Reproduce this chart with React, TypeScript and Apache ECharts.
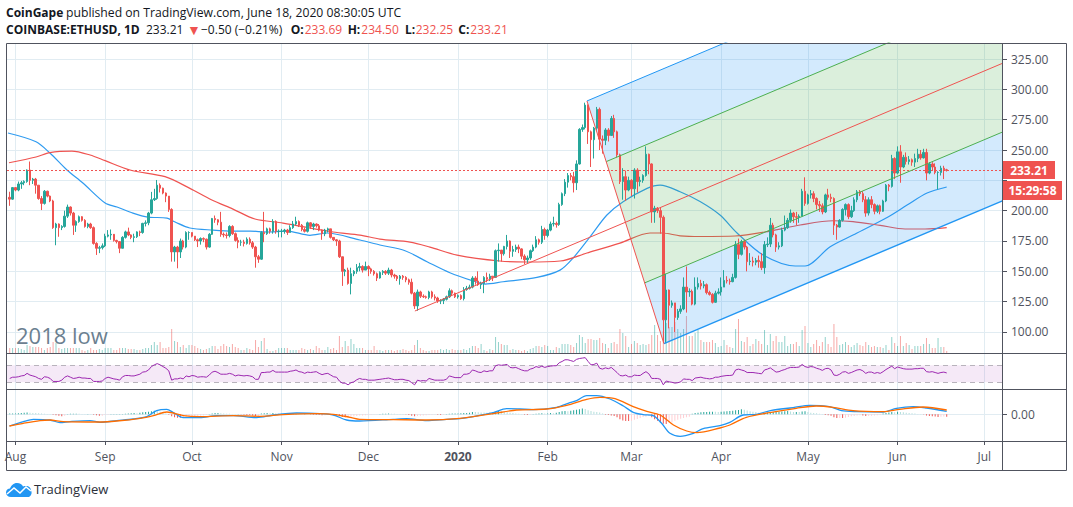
import React, { useEffect, useRef } from "react";
import * as echarts from "echarts";

// ---- time scale: day 0 is 1 Aug 2019 ----
const firstDay = -2;
const monthDays = [0, 31, 61, 92, 122, 153, 184, 213, 244, 274, 305, 335];
const monthLabels = ["Aug", "Sep", "Oct", "Nov", "Dec", "2020", "Feb", "Mar", "Apr", "May", "Jun", "Jul"];
const priceTicks = [100, 125, 150, 175, 200, 225, 250, 275, 300, 325];
const priceLabelsHidden = [225];
const lastPrice = 233.21;

// ---- daily candles ----
const firstOpen = 211;
const closes = [
  209.5,219,217,222,223,224,233.5,225,226,221,
  210,206,216,212,208,186,189,186,187,195.5,
  203,198,188,191,195,192,187,189,186,173,
  169,169.5,171,179,180,180.5,175.5,174.5,169,178,
  182.5,180,178,178.5,182.5,182,189.5,190,198,209,
  210,221,218.5,214.5,212,201,166,170,166,175,
  170,182,182,179,176,175,177,176.5,170,180.5,
  193.5,192.5,190.5,180.5,180,179.5,187,181,175.5,174,
  174,173,176.5,173.5,170,162,160,182,181,185,
  183,191,183,183,183,184,182,186,189,191,
  188,184.5,183,190,187,189,187.5,184,181,184,
  185,178,176,175,162,150,151,140,148,150,
  153,154,151,154,152,150,148,144.5,149,150,
  148.5,151,147,146,144,146,145,143,141,132,
  121.5,133,129.5,129,128.5,133,129,128,125.5,126,
  127,129,134,132,129,130,127.5,135,136,137,
  144.5,142,139,140,145,143.5,146,145,167,167.5,
  164.5,170.5,175,166.5,168,170,168.5,162.5,159.5,161,
  167,170,176,174,184.5,179.5,184,189,189.5,188.5,
  205,214,223.5,229,228,223,238.5,267,268.5,287,
  265,258.5,268,283.5,259,258,266.5,262,276,265,
  246,224,228,217,225,218,233.5,224,225,229,
  246.5,238.5,199,202,200,194.5,110,134.6,122,124,
  112,117,119,137,133,133.5,123,137,140,138,
  139,132.5,131,124.5,132,133,137,142.5,142,141.5,
  145,172,164,174.5,170,158,158.5,157.5,159,158,
  153,172,172.5,188,180,170,171,184,186,192,
  198,195,194.5,195.5,216,206,213,214,210,205,
  204,199,213,211,210,188,186.5,192,201,205,
  195,200,209,215.5,214,209,198,209,205,199.5,
  204,199.5,208,221,220,243,231,248.5,236,244,
  240.5,242,240,243,246.5,243.5,248,231,238.5,236,
  231.5,231.5,235,233.69,233.21,
];
const highs = [
  215.6,219.5,219.5,224,224.5,225,234,240.5,227,227,
  221,212,217,216.5,212.5,209,190,189.5,188,200,
  205,203.5,199,192,196,195.5,193,190,190,187,
  174,171,173,181,184,184.5,180,176,175,179,
  183.5,186,180.5,181,183,183.5,190,192,199,215.5,
  218,225.3,222.5,219,215,212,202,171,171,177,
  176,183,183,182,179,177,178,178,177,181.5,
  194,196,193,199,182,182,188,188,182,178,
  176,176,178,178,175,171,163.5,183,199,186,
  186,193,192,184.5,185,185,185,188,191.5,195,
  192,189,186,191,190.5,190,189.5,189,184.5,185,
  186,185,178,176.5,176,162,152,153,153,151,
  156,157,155,158,155,153,151,149,150,151,
  151,153,152,148,147,147,147,146,144,144,
  133,135,134,131,130,134,134,131,129,127,
  128,130,136,135,132.5,131,131,137,138,139,
  146,146,150,141.5,146,149,148,146,168,173,
  167,171,180,175.5,171,172,172,169,164,163,
  168,172,179,177,187.5,186,185,191,195,191,
  206.5,215,226,231,231,232,241.5,268,271,289,
  287.5,266,269,285.5,285,262,268,268,278,279,
  266,247,235,233,228,226,235,235,228,230,
  253,247,239,204,203,203,196,148,135,126,
  124,119,122,145,154,136,135,145,145,143,
  142,140,134,132,134,136,145,151,146,144,
  148,175,177,176,176,171,165,162,161,163,
  165,175,178,194,190,181,174,186,196,194,
  201,199,199,197,218,227.5,214,217,216,211,
  208,206,214,218,214,211,189,193,202,206,
  206,204,211,217,217,216,212,211,212,206,
  205,205,209,222,222,246,244,253,254,246,
  248,245,243,247,251,250,251,251,240,240,
  239,232.5,237,237,234.5,
];
const lows = [
  204,209,216,216,218,221,223,221,222,214,
  209,200.5,205,211,207,185,171.5,178.5,184,186,
  194,196,180,182.5,190,191,186,185.5,185,172,
  163.5,165,168,170,178,176,174.5,173,165,169,
  177,179,176.5,174,177.5,179,181,187,188,197,
  208,209,215,213.5,207,199,158,158,152.5,161,
  168,169,176,178,175,170,172,174,168,169.5,
  180,190,188,178.5,178,177,178,180,174.5,169,
  171,170.5,172,172,168.5,153,157,159.5,174,180,
  181,181,181,178,178,181,180,182,185,188,
  186.5,183,182,182,185,184,186,183,176,179,
  182,177,175,171,161,138,146,139,131,146,
  148,150,149,151,146,148,146.5,142,144,147,
  147,147,145,144,142,139,143,141,139,131,
  119,117.5,128,128,127.5,127,127.5,126,124,123,
  123,126,128,130,128,127.5,126.5,126,134,135,
  136,139,138,135.5,132,141,142,142,144.5,158,
  158,163,168,161,162,166,165,160,156,157,
  159.5,166,169,172,172.5,176,178,183,187,186,
  187.5,204,212,219,225,215,217,238,265,267,
  255,236,243,266,250,247,254,257,262,260,
  244,222,209,208,216,212,210,215,220,223,
  228,230,190,190,198,181,92,90.7,103,120,
  100,110,115,118,116,129,122,122,135,135,
  136,131,130,123.5,124,131,130,137,140,139,
  141,144,160,163,168,150,155,154,155,153,
  151,148,170,170,178,166,168,170,183,185,
  190,190,188,190,196,204,205,210,207,201,
  199,197,198,209,207,180,176,186,191,196,
  193,194,199,207,212,207,195,196,202,197,
  198,197,199,207,216,219,226,230,223,235,
  238,238,237,236,240,242,243,225,230,233,
  230,217.6,229,226,232.25,
];
const volumes = [
  5,5,5,5,4,3,8,7,6,6,
  6,5,3,5,6,11,10,5,4,5,
  5,5,5,5,5,3,2,3,5,3,
  3,4,3,5,5,5,3,3,5,5,
  5,4,4,4,3,3,4,5,5,8,
  11,8,11,5,5,6,24,12,11,6,
  8,5,8,8,7,5,4,3,4,5,
  7,7,4,7,9,7,6,9,6,5,
  3,3,5,4,3,13,6,12,15,4,
  2,2,3,5,5,5,5,3,3,3,
  3,5,4,3,4,3,7,5,3,3,
  6,4,5,3,17,6,12,7,14,9,
  5,5,5,3,3,3,7,3,3,2,
  3,3,3,2,3,3,4,3,2,3,
  8,13,5,3,2,2,3,3,3,4,
  3,4,3,4,3,3,3,4,3,5,
  7,7,5,9,3,2,4,3,16,11,
  9,8,8,3,4,3,3,2,3,2,
  4,5,7,7,6,8,7,3,3,6,
  5,9,9,9,8,6,10,18,16,10,
  14,14,13,13,15,10,9,5,10,11,
  9,24,20,17,6,9,12,10,8,9,
  8,9,18,28,18,12,22,30,26,26,
  31,24,20,24,37,17,17,20,23,13,
  11,11,11,13,10,6,7,13,8,6,
  5,24,34,12,11,16,7,9,14,12,
  9,23,8,19,12,17,11,11,17,7,
  9,9,11,7,23,27,10,6,9,13,
  7,11,16,9,6,29,16,8,9,11,
  8,6,8,10,8,7,11,8,6,7,
  6,6,5,8,3,16,10,7,17,7,
  10,8,4,7,7,7,9,15,9,5,
  5,15,6,6,2,
];
const rsiValues = [
  39,42,42,43,45,46,51,47,45,43,
  39,37,43,42,39,32,32,32,35,42,
  45,42,39,40,42,40,40,39,39,32,
  32,32,33,39,42,40,38,37,35,43,
  46,46,45,45,47,49,54,55,59,67,
  71,74,71,67,63,57,35,38,38,40,
  38,45,43,46,45,42,43,43,42,47,
  54,56,53,49,49,49,51,49,45,47,
  46,45,46,45,43,37,37,53,53,54,
  54,58,54,54,54,54,54,56,57,59,
  55,54,51,54,53,54,55,51,48,50,
  51,47,43,42,33,28,28,24,29,31,
  36,39,37,37,35,35,35,36,37,38,
  39,40,38,36,36,37,37,35,34,29,
  24,35,33,34,33,39,37,35,35,35,
  35,37,45,43,41,41,41,49,49,51,
  59,57,54,53,57,55,57,57,69,71,
  70,71,72,65,64,65,62,59,57,57,
  61,63,67,65,68,65,67,68,69,69,
  76,79,83,83,81,79,84,86,87,88,
  79,71,72,75,63,61,64,62,65,59,
  53,46,45,47,43,43,47,46,46,51,
  55,50,39,39,39,37,24,33,31,30,
  28,29,31,38,37,37,34,40,41,42,
  40,39,38,39,42,42,44,45,46,46,
  47,59,61,59,57,53,53,53,52,51,
  50,59,61,64,59,54,55,58,60,63,
  65,65,65,66,72,67,65,67,66,63,
  61,58,62,63,59,47,46,49,54,55,
  51,53,56,59,60,57,51,54,54,51,
  53,51,55,60,64,68,62,66,64,62,
  61,61,61,62,62,63,63,55,54,55,
  53,51,53,54,52,
];
const macdHistogram = [
  0.8,0.8,0.9,1,1.2,1.5,1.8,1.6,1.4,1.2,
  1,0.8,0.6,0.4,0.2,-0.4,-1,-1.5,-2,-1.5,
  0.3,0.5,0.6,0.6,0.5,0.4,0.3,0.3,0.2,-0.5,
  -1,-1.5,-1.4,-0.8,-0.5,0.2,0.2,0.3,0.3,0.4,
  0.6,0.8,1,1.2,1,1.5,2,2.2,2.6,3,
  3.5,3.2,2.5,1.5,0.8,-0.5,-2,-3,-3.5,-3.5,
  -3,-2.5,-2,-1.8,-1.6,-1.4,-1.2,-1,-0.8,0.3,
  0.8,1.2,1.3,1,0.8,0.6,0.5,0.3,0.2,0.2,
  -0.2,-0.4,-0.6,-0.8,-1.2,-1.8,-1.5,0.8,1,1.2,
  1.1,1.3,1,0.8,0.7,0.6,0.6,0.5,0.5,0.5,
  0.3,0.2,0.2,0.1,-0.2,-0.4,-0.6,-0.8,-1,-0.9,
  -0.7,-0.8,-1,-1.3,-2,-2.6,-3,-2.8,-2.4,-2,
  -1.6,-1.3,-1.1,-0.9,-0.7,-0.5,-0.3,-0.2,0.3,0.5,
  0.6,0.7,0.6,0.5,0.4,0.3,0.2,-0.3,-0.6,-1.5,
  -2,-1.8,-1.5,-1.2,-1,-0.6,-0.5,-0.3,-0.4,-0.6,
  -0.4,0.3,0.6,0.8,0.9,0.9,1,1.3,1.4,1.6,
  2.4,2.2,2,1.8,1.7,1.5,1.5,1.8,2.6,3.2,
  3,2.4,2,1.5,1.2,0.8,0.5,0.2,-0.4,-0.8,
  -0.5,0.2,0.5,0.8,1,0.8,0.8,1.2,1,1.6,
  2.4,3,3.3,3,3.5,4,4.6,5,5.8,5.2,
  4,3.2,2.6,2.4,1.8,0.8,-0.4,-0.8,-1.2,-1.6,
  -3,-5,-6.2,-6.6,-6.8,-6.5,-5.5,-4.8,-3.6,-2.8,
  -2.4,-1.8,-3,-5,-6.5,-8.5,-9.5,-9.8,-8.5,-8,
  -6.5,-5.5,-4.5,-3.8,-3,-2.4,0.6,1.2,1.6,2,
  2.2,2.4,2.5,2.6,2.5,2.4,2.6,2.8,3,3.2,
  3.6,4,4.4,5,4.6,3.8,3,2.6,2.2,1.6,
  1.2,1.4,1.8,2.2,2.4,2.6,2.6,2.8,3,3.2,
  2.8,2.4,2.4,2.2,2.8,3,2.4,1.6,1.2,1,
  0.6,0.3,-0.6,-1,-1.4,-3,-3.8,-3.6,-3.8,-3.5,
  -2.8,-2,-1.6,-1.2,-1,-1.2,-1.8,-1.6,-1.4,-1.2,
  -1,-0.8,0.8,1.4,1.8,2.4,2,2.6,2.3,2,
  1.6,1.3,1,0.7,0.4,0.2,-0.3,-1.2,-1.8,-2,
  -2.2,-2.6,-2.4,-2.2,-2.4,
];

// ---- lines read at their bends: [day, value] ----
const blueMA = [
  [-2.6,264],[7.1,256.8],[11.9,247.5],[17.8,233.5],[23.3,222.8],[31,206.3],[35.1,203],[40.6,198],[45.8,194.7],[52.4,193.9],
  [55.2,190.6],[60.3,185.7],[68.3,184],[75.2,183.2],[81.1,183.2],[87,182.4],[93.9,183.2],[101.8,179.7],[107.7,181.6],[119.1,175.8],
  [126,171.7],[134.7,167],[142.3,157.9],[150.2,148.8],[157.9,142.3],[162.4,139.5],[168.6,141.4],[180.3,145],[188.3,151],[192.8,160.9],
  [198.7,178.5],[204.5,196.4],[210.1,207.4],[218.4,218.4],[222.9,221.1],[229.8,215.6],[236.7,207.5],[243.6,196.4],[249.5,181.6],[258.5,163.4],
  [269.6,154.4],[273,154.4],[281.7,170.3],[289.6,179.9],[301.7,194.8],[308.3,204.6],[315.2,214.5],[322,219.5],
];
const redMA = [
  [-2.25,239.5],[7.1,244.2],[11.9,247.9],[19.5,249.1],[25.8,245.9],[31,241.2],[39.6,233.5],[51.7,228],[60.3,218.4],[67.9,208.8],
  [75.2,201.3],[82.8,193.1],[92.5,189.8],[109.8,182.4],[119.1,179.9],[126,176.6],[136.4,174.1],[143.3,170],[152.7,163.4],[167.5,158.5],
  [176.9,157.7],[188.3,158.5],[197.6,165.1],[209,173.3],[219.4,181.6],[223.6,181.6],[229.8,179.3],[236.7,178.7],[248.8,179.1],[260.9,183.2],
  [271.3,188.2],[282.7,191.7],[289.6,191],[299,187.9],[307.6,184.9],[314.5,184.9],[322,186.1],
];
const macdLine = [
  [-2.1,-11.7],[2.7,-7.3],[6.2,-5],[11.9,-5.7],[15.4,-8.3],[18.8,-7.3],[25.8,-6.3],[29.2,-8],[35,-6.3],[40.7,-4.7],[45.4,-2.3],[48.8,3.7],[52.3,5],[54.6,1.7],[58,-3.3],
  [63.8,-3.3],[69.6,-1.3],[75.3,-1.3],[83.4,-3.3],[89.2,-0.7],[97.2,1.3],[105.3,0.7],[109.9,-0.7],[114.5,-5.7],[119,-6.7],[130.6,-5],[135.3,-4.3],[142.2,-6.3],[149.1,-5],[153.7,-4.3],
  [158.3,-2.3],[165.2,1.7],[169.8,5.7],[174.4,5.3],[179,4.7],[187.1,7],[191.7,11.7],[194,13.7],[197.5,18.7],[200.9,18.7],[205.6,15.3],[210.2,8.3],[213.6,2],[217,-0.3],[220.5,-1.3],
  [223.4,-9],[226.3,-19],[229.8,-22],[234.4,-19],[237.8,-14.3],[243.6,-11.3],[247,-8],[251.6,-0.7],[256.2,0],[261.4,4],[268.9,6.7],[274.6,9],[281.5,7.7],[285.6,3.7],[290.8,2.7],
  [300,2.3],[304.6,6],[310.4,7.7],[315,6.3],[322,3],
];
const signalLine = [
  [-2.1,-11.7],[2.7,-9],[8.5,-6.3],[11.9,-5.7],[16.5,-7.3],[29.2,-7.7],[35,-6.7],[43.1,-4],[47.7,-1.3],[52.3,2.3],[58,-1.3],[63.8,-2.3],[75.3,-1.3],[84.5,-2],[92.6,-0.3],
  [104.1,0.7],[109.9,0],[115.7,-3],[119,-5],[130.6,-5.3],[142.2,-5.7],[153.7,-4],[165.2,0.7],[173.3,4.3],[183.6,5.3],[190.6,9],[197.5,15],[202.1,17],[207.3,15.7],[213.6,7.7],
  [218.3,3],[222.9,-0.7],[227.5,-10.7],[232.1,-16.7],[235.6,-18.3],[243.6,-13.7],[247,-10.7],[252.7,-3],[260.8,1.7],[270,6],[276.9,8.3],[282.7,7],[289.6,3.7],[300,2.7],[305.7,5],
  [313.8,7.3],[322,4.3],
];

// ---- the drawn pitchfork's three anchors: [day, price] ----
const forkStart = [138.1, 117.3];
const forkHigh = [197.6, 290.4];
const forkLow = [224.2, 90.5];

const UP = "#26a69a";
const DOWN = "#ef5350";
const GRID = "#e1ecf2";
const FRAME = "#50535e";
const FONT = "'Open Sans', sans-serif";
const xMin = -2.94;
const xMax = 341.46;

const logoPath =
  "M5 14 C2 14 0 12 0 9.5 C0 7 2 5.5 4 5.5 C5 2.5 7.5 0 11 0 C14 0 16 1.5 17 3.5 C18 3 19 3 20 3 C23 3 25 5 25 7.5 C26 9.5 26 12 23 14 Z";
echarts.graphic.registerShape("tvlogo", echarts.graphic.extendPath(logoPath as any, {}) as any);

function buildOption() {
  const days = closes.map((_, i) => firstDay + i);
  const opens = closes.map((_, i) => (i === 0 ? firstOpen : closes[i - 1]));
  const candles = days.map((d, i) => [d, opens[i], closes[i], lows[i], highs[i]]);
  const volumeBars = days.map((d, i) => ({
    value: [d, volumes[i]],
    itemStyle: { color: closes[i] >= opens[i] ? "rgba(38,166,154,0.5)" : "rgba(239,83,80,0.5)" },
  }));
  const histBars = days.map((d, i) => {
    const v = macdHistogram[i];
    const prev = i ? macdHistogram[i - 1] : 0;
    const color = v >= 0 ? (v >= prev ? "#26a69a" : "#b2dfdb") : v <= prev ? "#ef5350" : "#ffcdd2";
    return { value: [d, v], itemStyle: { color } };
  });

  const mid = [(forkHigh[0] + forkLow[0]) / 2, (forkHigh[1] + forkLow[1]) / 2];
  const slope = (mid[1] - forkStart[1]) / (mid[0] - forkStart[0]);
  const upperQ = [(forkHigh[0] + mid[0]) / 2, (forkHigh[1] + mid[1]) / 2];
  const lowerQ = [(forkLow[0] + mid[0]) / 2, (forkLow[1] + mid[1]) / 2];
  const toEnd = (p: number[]) => [xMax, p[1] + slope * (xMax - p[0])];
  const zones = [
    { pts: [forkHigh, toEnd(forkHigh), toEnd(upperQ), upperQ], fill: "rgba(33,150,243,0.2)" },
    { pts: [upperQ, toEnd(upperQ), toEnd(lowerQ), lowerQ], fill: "rgba(76,175,80,0.2)" },
    { pts: [lowerQ, toEnd(lowerQ), toEnd(forkLow), forkLow], fill: "rgba(33,150,243,0.2)" },
  ];
  const forkLine = (pts: number[][], color: string, width = 1, z = 6) => ({
    type: "line",
    xAxisIndex: 0,
    yAxisIndex: 0,
    data: pts,
    symbol: "none",
    silent: true,
    clip: true,
    z,
    lineStyle: { color, width },
  });

  const xAxisBase = (gridIndex: number, labelled: boolean) => ({
    type: "value",
    gridIndex,
    min: xMin,
    max: xMax,
    axisLine: { show: false, onZero: false },
    splitLine: { show: true, lineStyle: { color: GRID, width: 1 } },
    axisTick: { show: labelled, customValues: monthDays, length: 4, lineStyle: { color: FRAME } },
    axisLabel: {
      show: labelled,
      customValues: monthDays,
      hideOverlap: false,
      margin: 9,
      fontFamily: FONT,
      fontSize: 12,
      color: "#50535e",
      rich: { b: { fontWeight: "bold", fontFamily: FONT, fontSize: 12, color: "#50535e" } },
      formatter: (v: number) => {
        const s = monthLabels[monthDays.indexOf(v)];
        return s === "2020" ? "{b|2020}" : s;
      },
    },
  });

  const text = (t: string, x: number, y: number, opt: any = {}) => ({
    type: "text",
    silent: true,
    z: 50,
    style: {
      text: t,
      x,
      y,
      fill: opt.fill || "#131722",
      font: `${opt.weight || "normal"} ${opt.size || 12}px ${FONT}`,
      textAlign: opt.align || "left",
      textVerticalAlign: "middle",
      textBaseline: "middle",
    },
  });
  const hline = (x1: number, y1: number, x2: number, y2: number) => ({
    type: "line",
    silent: true,
    z: 40,
    shape: { x1, y1, x2, y2 },
    style: { stroke: FRAME, lineWidth: 1 },
  });

  return {
    animation: false,
    backgroundColor: "#ffffff",
    grid: [
      { left: 7, top: 43, width: 996, height: 310, show: false },
      { left: 7, top: 354, width: 996, height: 35, show: false },
      { left: 7, top: 390, width: 996, height: 51, show: false },
    ],
    xAxis: [xAxisBase(0, false), xAxisBase(1, false), xAxisBase(2, true)],
    yAxis: [
      {
        type: "value",
        gridIndex: 0,
        position: "right",
        min: 82.69,
        max: 338.19,
        axisLine: { show: false, onZero: false },
        axisTick: { show: true, customValues: priceTicks, length: 4, lineStyle: { color: FRAME } },
        axisLabel: {
          customValues: priceTicks.filter((p) => !priceLabelsHidden.includes(p)),
          margin: 8,
          fontFamily: FONT,
          fontSize: 12,
          color: "#50535e",
          formatter: (v: number) => v.toFixed(2),
        },
        splitLine: { show: true, lineStyle: { color: GRID, width: 1 } },
      },
      { type: "value", gridIndex: 0, min: 0, max: 310, show: false, axisLine: { onZero: false }, splitLine: { show: false } },
      { type: "value", gridIndex: 1, min: 14.2, max: 96.6, show: false, axisLine: { onZero: false }, splitLine: { show: false } },
      {
        type: "value",
        gridIndex: 2,
        position: "right",
        min: -26.7,
        max: 24.3,
        axisLine: { show: false, onZero: false },
        axisTick: { show: true, customValues: [0], length: 4, lineStyle: { color: FRAME } },
        axisLabel: {
          customValues: [0],
          margin: 8,
          fontFamily: FONT,
          fontSize: 12,
          color: "#50535e",
          formatter: (v: number) => v.toFixed(2),
        },
        splitLine: { show: true, lineStyle: { color: GRID, width: 1 } },
      },
    ],
    series: [
      {
        type: "bar",
        name: "Volume",
        xAxisIndex: 0,
        yAxisIndex: 1,
        data: volumeBars,
        barWidth: 1,
        silent: true,
        z: 2,
      },
      {
        type: "line",
        name: "MA 50",
        xAxisIndex: 0,
        yAxisIndex: 0,
        data: blueMA,
        symbol: "none",
        smooth: 0.3,
        silent: true,
        z: 3,
        lineStyle: { color: "#2f9bf0", width: 1.2 },
      },
      {
        type: "line",
        name: "MA 200",
        xAxisIndex: 0,
        yAxisIndex: 0,
        data: redMA,
        symbol: "none",
        smooth: 0.3,
        silent: true,
        z: 3,
        lineStyle: { color: "#ef5350", width: 1.2 },
      },
      {
        type: "custom",
        name: "Pitchfork fill",
        xAxisIndex: 0,
        yAxisIndex: 0,
        clip: true,
        silent: true,
        z: 4,
        encode: { x: 0, y: 1 },
        data: zones.map((_, i) => [mid[0], mid[1], i]),
        renderItem: (_: any, api: any) => {
          const zone = zones[api.value(2)];
          return {
            type: "polygon",
            shape: { points: zone.pts.map((p) => api.coord(p)) },
            style: { fill: zone.fill, stroke: "none" },
          };
        },
      },
      {
        type: "candlestick",
        name: "COINBASE:ETHUSD",
        xAxisIndex: 0,
        yAxisIndex: 0,
        data: candles,
        encode: { x: 0, y: [1, 2, 3, 4] },
        barWidth: 2,
        silent: true,
        z: 5,
        clip: true,
        itemStyle: { color: UP, color0: DOWN, borderColor: UP, borderColor0: DOWN, borderWidth: 1 },
        markLine: {
          silent: true,
          symbol: "none",
          label: { show: false },
          lineStyle: { color: DOWN, type: [2, 2], width: 1 },
          data: [{ yAxis: lastPrice }],
          z: 6,
        },
      },
      forkLine([forkHigh, toEnd(forkHigh)], "#2196f3"),
      forkLine([upperQ, toEnd(upperQ)], "#4caf50"),
      forkLine([forkStart, toEnd(forkStart)], "#ef5350"),
      forkLine([lowerQ, toEnd(lowerQ)], "#4caf50"),
      forkLine([forkLow, toEnd(forkLow)], "#2196f3", 1.4),
      forkLine([forkHigh, forkLow], "#ef5350"),
      {
        type: "line",
        name: "RSI",
        xAxisIndex: 1,
        yAxisIndex: 2,
        data: days.map((d, i) => [d, rsiValues[i]]),
        symbol: "none",
        silent: true,
        z: 5,
        lineStyle: { color: "#9c27b0", width: 1 },
        markArea: {
          silent: true,
          itemStyle: { color: "rgba(156,39,176,0.1)" },
          data: [[{ yAxis: 30 }, { yAxis: 70 }]],
        },
        markLine: {
          silent: true,
          symbol: "none",
          label: { show: false },
          lineStyle: { color: "#b8b3bc", type: [5, 4], width: 1 },
          data: [{ yAxis: 30 }, { yAxis: 70 }],
        },
      },
      {
        type: "bar",
        name: "Histogram",
        xAxisIndex: 2,
        yAxisIndex: 3,
        data: histBars,
        barWidth: 1,
        silent: true,
        z: 2,
      },
      {
        type: "line",
        name: "MACD",
        xAxisIndex: 2,
        yAxisIndex: 3,
        data: macdLine,
        symbol: "none",
        smooth: 0.3,
        silent: true,
        z: 4,
        lineStyle: { color: "#2196f3", width: 1.3 },
      },
      {
        type: "line",
        name: "Signal",
        xAxisIndex: 2,
        yAxisIndex: 3,
        data: signalLine,
        symbol: "none",
        smooth: 0.3,
        silent: true,
        z: 5,
        lineStyle: { color: "#ff6d00", width: 1.3 },
      },
    ],
    graphic: [
      {
        type: "rect",
        silent: true,
        z: 40,
        shape: { x: 6.5, y: 43.5, width: 1060, height: 427 },
        style: { fill: "none", stroke: FRAME, lineWidth: 1 },
      },
      hline(1002.5, 43.5, 1002.5, 470.5),
      hline(6.5, 353.5, 1066.5, 353.5),
      hline(6.5, 389.5, 1066.5, 389.5),
      hline(6.5, 441.5, 1066.5, 441.5),
      text("CoinGape", 6, 12, { weight: "bold" }),
      text("published on TradingView.com, June 18, 2020 08:30:05 UTC", 66, 12, { size: 12.2 }),
      text("COINBASE:ETHUSD, 1D", 6, 29, { weight: "bold" }),
      text("233.21", 146, 29),
      text("▼", 187, 29, { fill: DOWN, size: 14 }),
      text("−0.50 (−0.21%)", 201, 29),
      text("O:", 290.7, 29, { weight: "bold" }),
      text("233.69", 304.7, 29, { fill: DOWN }),
      text("H:", 347.7, 29, { weight: "bold" }),
      text("234.50", 361.3, 29, { fill: DOWN }),
      text("L:", 405, 29, { weight: "bold" }),
      text("232.25", 415.7, 29, { fill: DOWN }),
      text("C:", 458.3, 29, { weight: "bold" }),
      text("233.21", 470.3, 29, { fill: DOWN }),
      text("2018 low", 16, 335, { fill: "#6b8090", size: 22 }),
      {
        type: "rect",
        silent: true,
        z: 45,
        shape: { x: 1003, y: 161, width: 52, height: 18 },
        style: { fill: DOWN },
      },
      text("233.21", 1029, 170, { fill: "#ffffff", align: "center", weight: "bold" }),
      {
        type: "rect",
        silent: true,
        z: 45,
        shape: { x: 1003, y: 181, width: 59, height: 19 },
        style: { fill: DOWN },
      },
      text("15:29:58", 1032.5, 190.5, { fill: "#ffffff", align: "center", weight: "bold" }),
      { type: "tvlogo", x: 6, y: 483, silent: true, style: { fill: "#2196f3" } },
      {
        type: "polyline",
        silent: true,
        z: 46,
        shape: { points: [[7, 494], [14, 488], [20, 493], [26, 487], [31, 491]] },
        style: { stroke: "#ffffff", lineWidth: 1.5, fill: "none" },
      },
      text("TradingView", 34, 489, { size: 13, fill: "#2a2e39" }),
    ],
  };
}

export default function App() {
  const ref = useRef<HTMLDivElement>(null);
  useEffect(() => {
    const chart = echarts.init(ref.current as HTMLDivElement, undefined, { renderer: "svg" });
    chart.setOption(buildOption() as any);
    return () => chart.dispose();
  }, []);
  return <div ref={ref} style={{ position: "absolute", left: 0, top: 0, width: 1073, height: 507 }} />;
}
